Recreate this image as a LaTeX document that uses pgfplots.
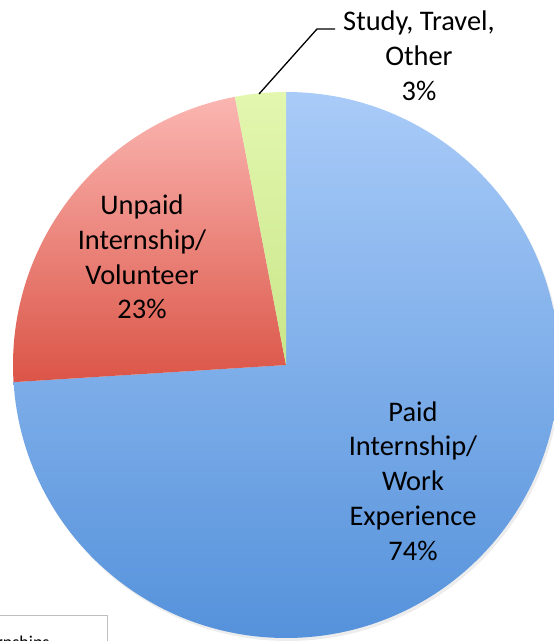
\documentclass[border=0pt]{standalone}
\usepackage{pgfplots}
\pgfplotsset{compat=1.18}
\usepackage{pgfplotstable}
\usepackage{fontspec}
\setmainfont{Carlito}

\definecolor{bluetop}{HTML}{A9CBF8}
\definecolor{bluebot}{HTML}{5592DB}
\definecolor{redtop}{HTML}{FBB6B2}
\definecolor{redbot}{HTML}{DB5547}
\definecolor{greentop}{HTML}{E3F7AF}
\definecolor{greenbot}{HTML}{C9E689}

% share of each answer, in percent
\pgfplotstableread{
label value
Paid 74
Unpaid 23
Other 3
}\piedata

\pgfplotstablegetelem{0}{value}\of\piedata \let\vPaid\pgfplotsretval
\pgfplotstablegetelem{1}{value}\of\piedata \let\vUnpaid\pgfplotsretval
\pgfplotstablegetelem{2}{value}\of\piedata \let\vOther\pgfplotsretval

% slices run clockwise from 12 o'clock
\pgfmathsetmacro\aA{90}
\pgfmathsetmacro\aB{\aA-\vPaid*3.6}
\pgfmathsetmacro\aC{\aB-\vUnpaid*3.6}
\pgfmathsetmacro\aD{\aC-\vOther*3.6}

\def\R{273pt}
\tikzset{lbl/.style={font=\fontsize{28.4}{34.8}\selectfont, align=center, inner sep=0pt}}

\begin{document}
\begin{tikzpicture}
\useasboundingbox (0,0) rectangle (554pt,641pt);
\clip (0,0) rectangle (554pt,641pt);
\begin{axis}[
    at={(0,0)}, anchor=south west,
    width=554pt, height=641pt, scale only axis,
    xmin=0, xmax=554, ymin=0, ymax=641,
    hide axis, clip=false,
]
\addplot[draw=none] coordinates {(0,0) (554,641)};

% soft shadow
\fill[black, opacity=0.07] (axis cs:288,273) circle[radius=\R];

\shade[top color=bluetop, bottom color=bluebot]
  (axis cs:286,276) -- ++(\aA:\R) arc[start angle=\aA, end angle=\aB, radius=\R] -- cycle;
\shade[top color=redtop, bottom color=redbot]
  (axis cs:286,276) -- ++(\aB:\R) arc[start angle=\aB, end angle=\aC, radius=\R] -- cycle;
\shade[top color=greentop, bottom color=greenbot]
  (axis cs:286,276) -- ++(\aC:\R) arc[start angle=\aC, end angle=\aD, radius=\R] -- cycle;

\draw[black, line width=1.3pt] (axis cs:259,547) -- (axis cs:317,612) -- (axis cs:335,612);

\node[lbl] at (axis cs:419,585) {Study, Travel,\\Other\\3\%};
\node[lbl] at (axis cs:142,384) {Unpaid\\Internship/\\Volunteer\\23\%};
\node[lbl] at (axis cs:413,160) {Paid\\Internship/\\Work\\Experience\\74\%};

% legend box, mostly outside the view
\draw[gray!50, fill=white] (axis cs:-5,-40) rectangle (axis cs:107,26);
\node[anchor=base east, font=\fontsize{18}{22}\selectfont] at (axis cs:53,-7) {Internships};
\end{axis}
\end{tikzpicture}
\end{document}
